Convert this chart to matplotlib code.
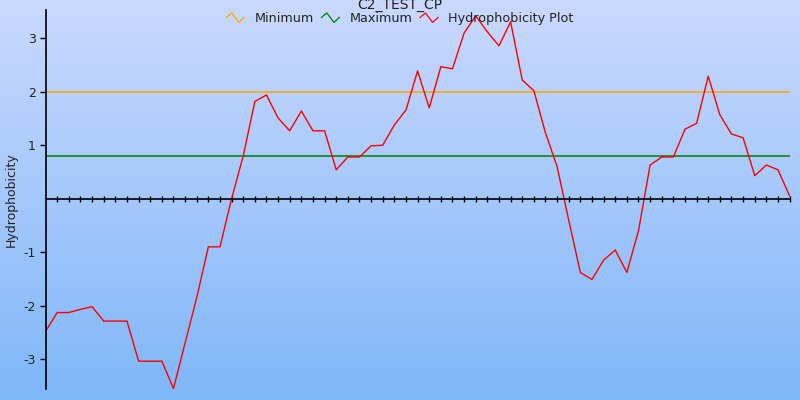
import numpy as np
import matplotlib
matplotlib.use('Agg')
import matplotlib.pyplot as plt
from matplotlib.lines import Line2D
from matplotlib.legend_handler import HandlerBase

title = 'C2_TEST_CP'
y_label = 'Hydrophobicity'
min_value = 2.0
max_value = 0.8
hydro = [-2.48, -2.13, -2.13, -2.07, -2.02, -2.29, -2.29, -2.29, -3.04, -3.04,
         -3.04, -3.55, -2.70, -1.85, -0.90, -0.90, 0.00, 0.80, 1.82, 1.94,
         1.51, 1.27, 1.64, 1.27, 1.27, 0.54, 0.78, 0.78, 0.99, 1.00,
         1.38, 1.66, 2.39, 1.70, 2.47, 2.43, 3.10, 3.42, 3.12, 2.86,
         3.31, 2.22, 2.02, 1.23, 0.60, -0.40, -1.38, -1.51, -1.15, -0.96,
         -1.38, -0.60, 0.63, 0.78, 0.78, 1.30, 1.41, 2.29, 1.57, 1.21,
         1.14, 0.43, 0.63, 0.54, 0.05]
y_ticks = [-3, -2, -1, 1, 2, 3]

plt.rcParams['font.family'] = ['DejaVu Sans']


class ZigZagHandler(HandlerBase):
    # little zig-zag icon like the original legend
    def create_artists(self, legend, orig_handle, xdescent, ydescent,
                       width, height, fontsize, trans):
        xs = np.array([0.0, 0.3, 0.7, 1.0]) * width - xdescent
        ys = np.array([0.55, 1.05, 0.0, 0.55]) * height - ydescent
        line = Line2D(xs, ys, color=orig_handle.get_color(), lw=0.9, transform=trans)
        return [line]


def main():
    fig = plt.figure(figsize=(8, 4), dpi=100)

    # gradient background
    bg = fig.add_axes([0, 0, 1, 1], zorder=-1)
    top = np.array([202, 217, 254]) / 255.0
    bottom = np.array([127, 183, 249]) / 255.0
    t = np.linspace(0, 1, 256)[:, None]
    grad = top[None, None, :] * (1 - t[:, :, None]) + bottom[None, None, :] * t[:, :, None]
    grad = np.repeat(grad, 2, axis=1)
    bg.imshow(grad, aspect='auto', extent=[0, 1, 0, 1])
    bg.axis('off')

    ax = fig.add_axes([0.057, 0.0275, 0.930, 0.9475])
    ax.patch.set_alpha(0)
    x = np.arange(len(hydro))

    h_min = ax.axhline(min_value, color='#ffa500', lw=1.1)
    h_max = ax.axhline(max_value, color='#008000', lw=1.1)
    h_plot, = ax.plot(x, hydro, color='red', lw=1.0)

    ax.set_xlim(0, len(hydro) - 1)
    ax.set_ylim(-3.56, 3.53)
    for s in ['top', 'right']:
        ax.spines[s].set_visible(False)
    ax.spines['bottom'].set_position(('data', 0))
    ax.spines['bottom'].set_linewidth(1.2)
    ax.spines['left'].set_linewidth(1.2)
    ax.set_xticks(x[1:])
    ax.set_xticklabels([])
    ax.tick_params(axis='x', direction='inout', length=5, width=1)
    ax.set_yticks(y_ticks)
    ax.set_yticklabels([str(v) for v in y_ticks])
    ax.tick_params(axis='y', direction='out', length=4, width=1,
                   labelsize=9, labelcolor='#222222', pad=3)
    ax.set_ylabel(y_label, fontsize=9, color='#222222', labelpad=4)

    fig.text(0.5, 1.005, title, ha='center', va='top', fontsize=10, color='#222222')
    fig.legend([h_min, h_max, h_plot], ['Minimum', 'Maximum', 'Hydrophobicity Plot'],
               handler_map={Line2D: ZigZagHandler()},
               loc='upper center', bbox_to_anchor=(0.5, 0.985), ncol=3,
               frameon=False, fontsize=9.2, handlelength=1.4, handletextpad=0.8,
               columnspacing=0.6, borderpad=0, labelcolor='#222222')

    fig.savefig('out.png', dpi=100)


if __name__ == '__main__':
    main()
